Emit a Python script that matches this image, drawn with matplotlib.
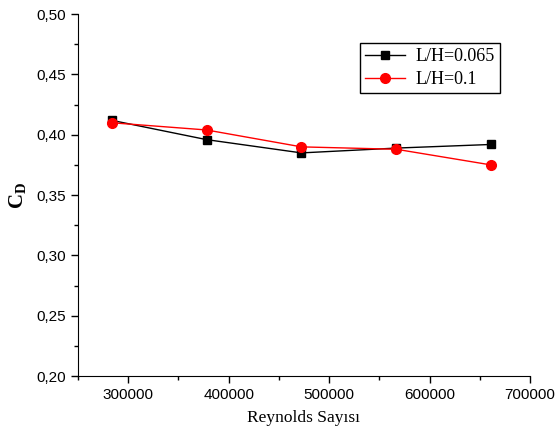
import matplotlib
matplotlib.use("Agg")
import matplotlib.pyplot as plt
from matplotlib.ticker import MultipleLocator, FuncFormatter

plt.rcParams["mathtext.fontset"] = "custom"
plt.rcParams["mathtext.rm"] = "Liberation Serif"
plt.rcParams["mathtext.bf"] = "Liberation Serif:bold"

reynolds = [283500, 378000, 472500, 567000, 661500]
cd_0065 = [0.412, 0.396, 0.385, 0.389, 0.392]
cd_01 = [0.410, 0.404, 0.390, 0.388, 0.375]
labels = ["L/H=0.065", "L/H=0.1"]

fig = plt.figure(figsize=(5.57, 4.41), dpi=100)
ax = fig.add_axes([0.140, 0.147, 0.8115, 0.821])

ax.plot(reynolds, cd_0065, color="black", marker="s", markersize=6, lw=1, label=labels[0])
ax.plot(reynolds, cd_01, color="red", marker="o", markersize=7, lw=1, label=labels[1])

ax.set_xlim(250000, 700000)
ax.set_ylim(0.20, 0.50)
ax.xaxis.set_major_locator(MultipleLocator(100000))
ax.xaxis.set_minor_locator(MultipleLocator(50000))
ax.yaxis.set_major_locator(MultipleLocator(0.05))
ax.yaxis.set_minor_locator(MultipleLocator(0.025))
ax.yaxis.set_major_formatter(FuncFormatter(lambda v, p: f"{v:.2f}".replace(".", ",")))
ax.xaxis.set_major_formatter(FuncFormatter(lambda v, p: f"{int(v)}"))

for s in ["top", "right"]:
    ax.spines[s].set_visible(False)
ax.tick_params(which="major", direction="out", length=5, width=1, labelsize=11)
ax.tick_params(which="minor", direction="out", length=3, width=1)
for lab in ax.get_xticklabels() + ax.get_yticklabels():
    lab.set_fontfamily("Liberation Sans")

ax.set_xlabel("Reynolds Sayısı", family="Liberation Serif", fontsize=12.5, labelpad=6)
ax.set_ylabel(r"$\mathbf{C_D}$", fontsize=15, labelpad=6)

leg = ax.legend(loc="upper right", bbox_to_anchor=(0.934, 0.92), borderaxespad=0,
                prop={"family": "Liberation Serif", "size": 13},
                fancybox=False, edgecolor="black", framealpha=1, handlelength=2.2,
                borderpad=0.3, labelspacing=0.3, handletextpad=0.6)
leg.get_frame().set_linewidth(1)

fig.savefig("out.png", dpi=100)
